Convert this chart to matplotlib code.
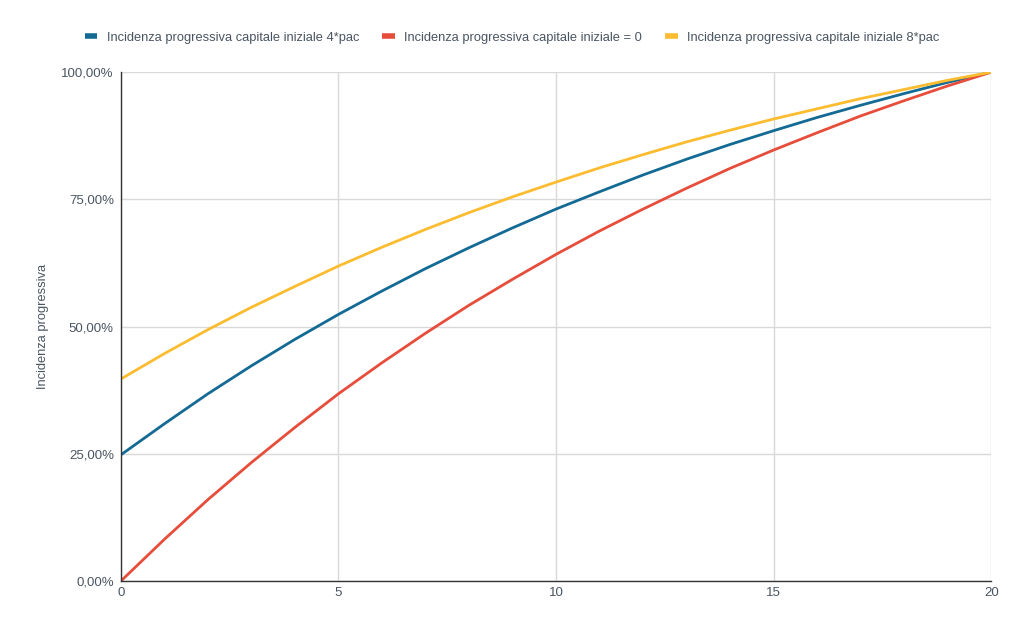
import matplotlib.pyplot as plt
from matplotlib.ticker import FuncFormatter

anni = list(range(21))

# incidenza progressiva (frazione)
cap_4pac = [0.248, 0.309, 0.368, 0.423, 0.475, 0.524, 0.570, 0.614, 0.655, 0.694,
            0.731, 0.765, 0.798, 0.829, 0.858, 0.885, 0.911, 0.935, 0.958, 0.980, 1.0]
cap_0 = [0.0, 0.082, 0.160, 0.233, 0.302, 0.368, 0.429, 0.487, 0.542, 0.593,
         0.642, 0.688, 0.731, 0.772, 0.811, 0.847, 0.881, 0.914, 0.944, 0.973, 1.0]
cap_8pac = [0.397, 0.447, 0.494, 0.538, 0.579, 0.619, 0.656, 0.691, 0.724, 0.755,
            0.784, 0.812, 0.838, 0.863, 0.886, 0.908, 0.928, 0.948, 0.966, 0.984, 1.0]

nomi = ["Incidenza progressiva capitale iniziale 4*pac",
        "Incidenza progressiva capitale iniziale = 0",
        "Incidenza progressiva capitale iniziale 8*pac"]
colori = ["#136a94", "#e64d3b", "#fbbc30"]

plt.rcParams['font.family'] = ['Liberation Sans', 'DejaVu Sans']
testo = "#4a5561"

fig = plt.figure(figsize=(10.24, 6.33), dpi=100)
ax = fig.add_axes([0.118, 0.082, 0.850, 0.804])

for serie, nome, col in zip([cap_4pac, cap_0, cap_8pac], nomi, colori):
  ax.plot(anni, serie, color=col, lw=2, label=nome, solid_capstyle='round')

ax.set_xlim(0, 20)
ax.set_ylim(0, 1)
ax.set_xticks([0, 5, 10, 15, 20])
ax.set_yticks([0, 0.25, 0.5, 0.75, 1.0])
ax.yaxis.set_major_formatter(FuncFormatter(lambda v, p: f"{v * 100:.2f}%".replace('.', ',')))
ax.grid(True, color="#d9d9d9", lw=1)
ax.set_axisbelow(True)
ax.tick_params(length=0, labelsize=9.5, colors=testo, pad=5)
ax.tick_params(axis='x', pad=4)
for s in ['top', 'right']:
  ax.spines[s].set_visible(False)
for s in ['left', 'bottom']:
  ax.spines[s].set_color("#333333")
  ax.spines[s].set_linewidth(1)
ax.set_ylabel("Incidenza progressiva", fontsize=9.3, color=testo, labelpad=9)

leg = fig.legend(loc='center', bbox_to_anchor=(0.5, 0.94), ncol=3, frameon=False,
                 fontsize=9.3, handlelength=1.0, handletextpad=0.7, columnspacing=1.8)
for h in leg.get_lines():
  h.set_linewidth(4)
  h.set_solid_capstyle('butt')
for t in leg.get_texts():
  t.set_color(testo)

fig.savefig("out.png", dpi=100)
